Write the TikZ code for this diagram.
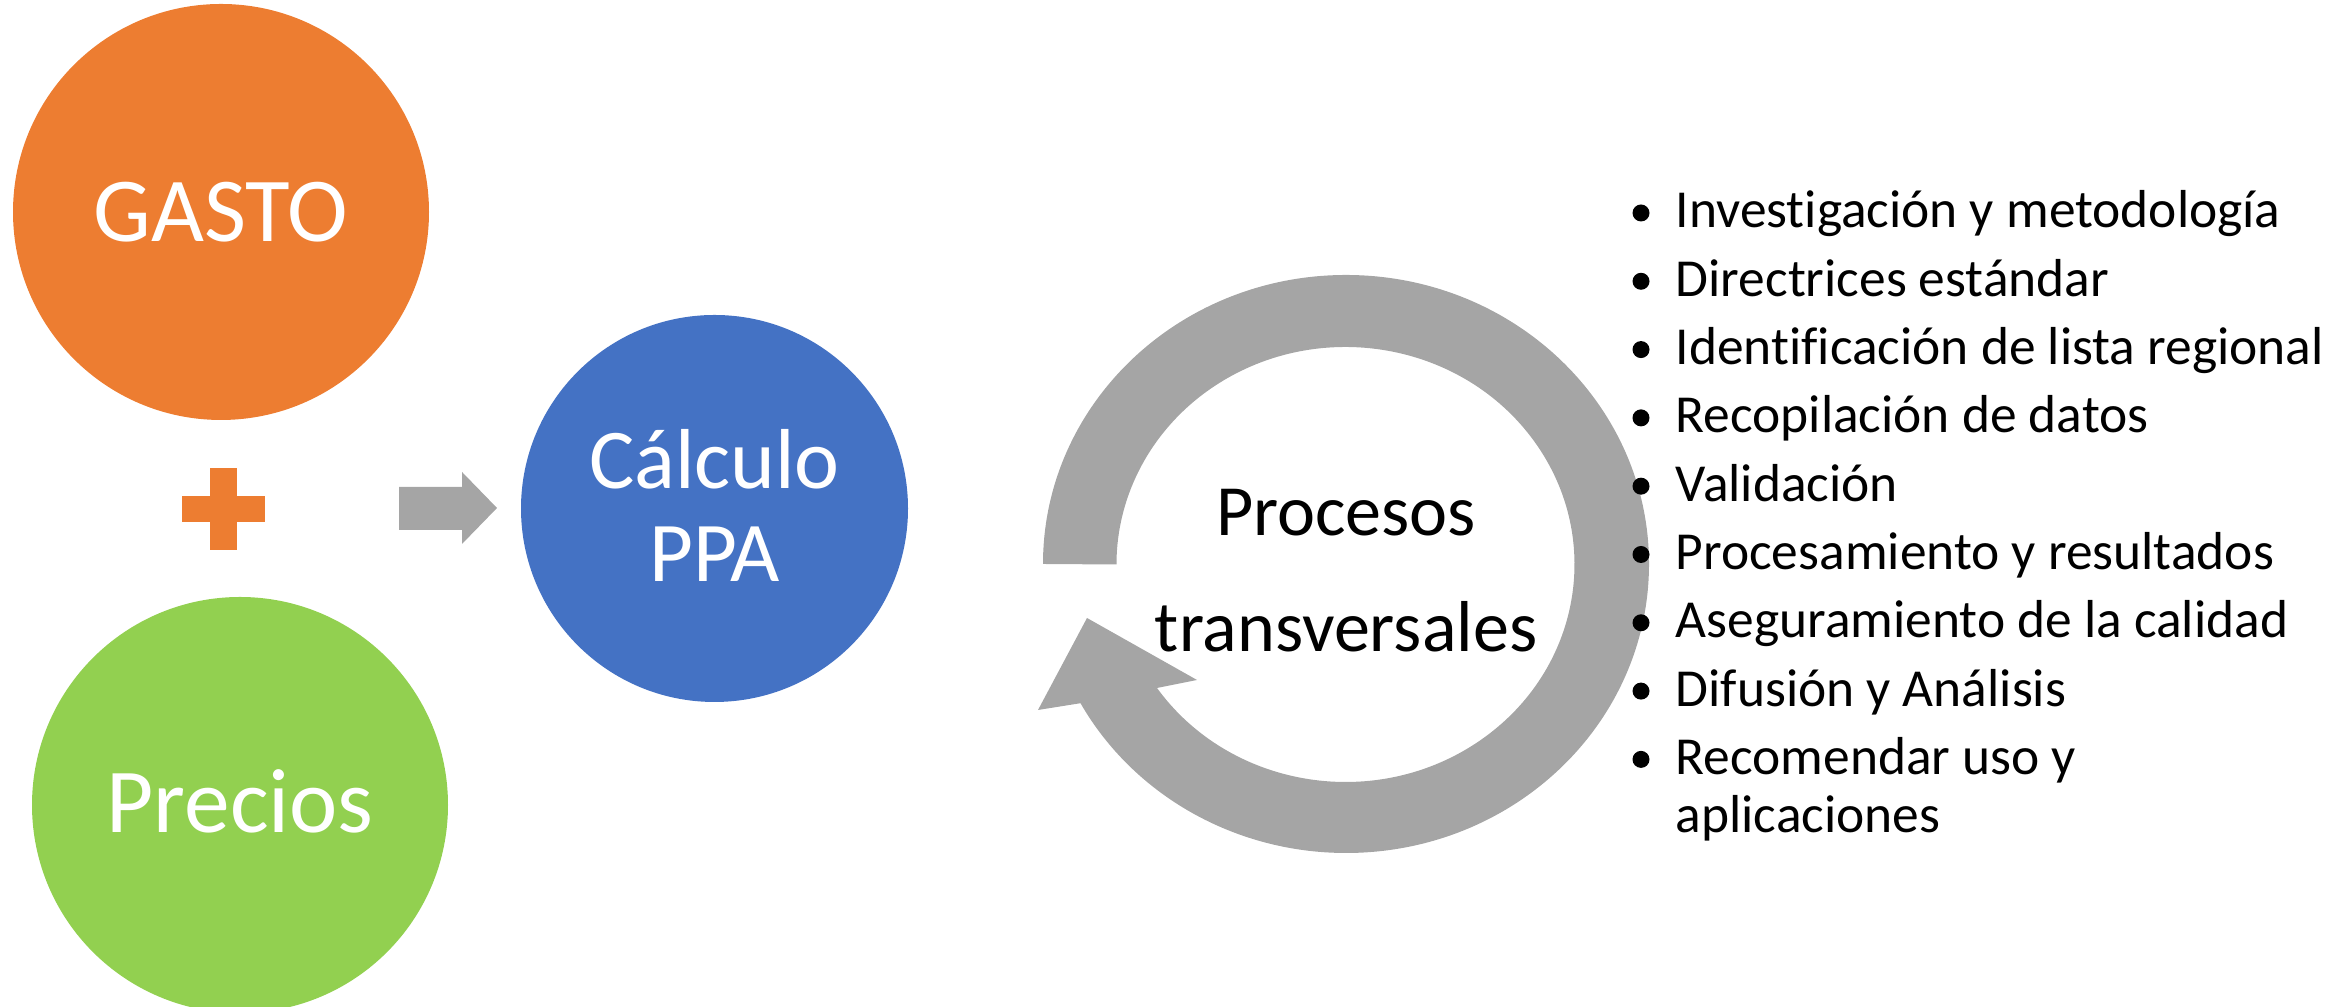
\documentclass[tikz,border=0pt]{standalone}
\usepackage{fontspec}
\setmainfont{Carlito}[Ligatures=NoCommon]
\definecolor{gastoorange}{HTML}{ED7D31}
\definecolor{preciosgreen}{HTML}{92D050}
\definecolor{ppablue}{HTML}{4472C4}
\definecolor{cyclegray}{HTML}{A5A5A5}

\begin{document}
\begin{tikzpicture}[x=0.01cm,y=0.01cm,text centered,
  bubble/.style={text=white,align=center,inner sep=0pt},
  item/.style={anchor=base west,inner sep=0pt,font=\fontsize{15.2}{16.6}\selectfont}]
\useasboundingbox (0,0) rectangle (2351,1007);

%% units are pixels of the slide, y counted from the bottom edge
\fill[gastoorange] (221,795) circle (208);
\node (02210795) at (221,795) [bubble,font=\fontsize{26}{28}\selectfont] {GASTO};
\fill[gastoorange] (182,485) rectangle (265,511);
\fill[gastoorange] (210,457) rectangle (237,539);
\fill[preciosgreen] (240,202) circle (208);
\node (02400206) at (240,206) [bubble,font=\fontsize{26}{28}\selectfont] {Precios};

\fill[cyclegray] (399,477) -- (462,477) -- (462,463) -- (497,499) -- (462,535) -- (462,520) -- (399,520) -- cycle;

\fill[ppablue] (714.5,498.5) circle (193.5);
\node (07140501) at (714.5,501.5) [bubble,font=\fontsize{24.2}{26.6}\selectfont] {Cálculo\\PPA};

%% cycle: outer arc clockwise from 180, head, inner arc back to 180
\fill[cyclegray] (1043,443) arc[start angle=180, end angle=-151.2, x radius=303, y radius=289]
  -- (1038,297) -- (1087,389) -- (1197,327) -- (1157,319)
  arc[start angle=-145.4, end angle=180, x radius=229, y radius=217.5] -- cycle;
\node (13460436) at (1346,436) [align=center,inner sep=0pt,font=\fontsize{20.5}{33}\selectfont] {Procesos\\transversales};

\fill (1641,794) circle (8.5);
\node (16750779) at (1675,779) [item] {Investigación y metodología};
\fill (1641,725.7) circle (8.5);
\node (16750711) at (1675,710.7) [item] {Directrices estándar};
\fill (1641,657.4) circle (8.5);
\node (16750642) at (1675,642.4) [item] {Identificación de lista regional};
\fill (1641,589.1) circle (8.5);
\node (16750574) at (1675,574.1) [item] {Recopilación de datos};
\fill (1641,520.8) circle (8.5);
\node (16750506) at (1675,505.8) [item] {Validación};
\fill (1641,452.5) circle (8.5);
\node (16750438) at (1675,437.5) [item] {Procesamiento y resultados};
\fill (1641,384.2) circle (8.5);
\node (16750369) at (1675,369.2) [item] {Aseguramiento de la calidad};
\fill (1641,315.9) circle (8.5);
\node (16750301) at (1675,300.9) [item] {Difusión y Análisis};
\fill (1641,247.6) circle (8.5);
\node (16750233) at (1675,232.6) [item] {Recomendar uso y};
\node (16750174) at (1675,174) [item] {aplicaciones};

\end{tikzpicture}
\end{document}
